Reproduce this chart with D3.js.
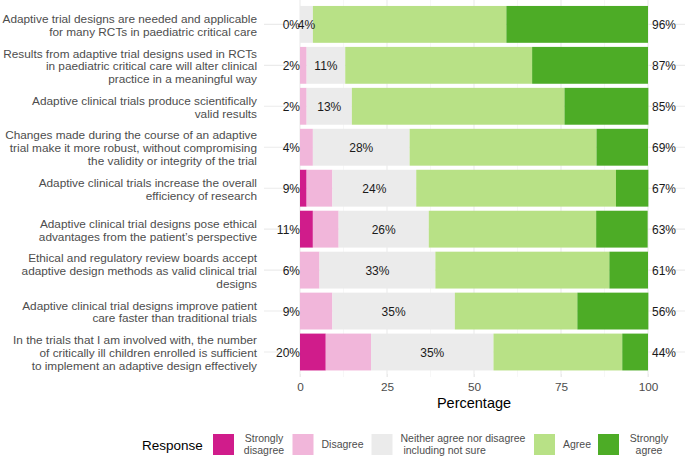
<!DOCTYPE html>
<html>
<head>
<meta charset="utf-8" />
<script src="https://cdn.jsdelivr.net/npm/d3@7"></script>
<style>
  body { margin: 0; background: #fff; }
  text { font-family: "Liberation Sans", Arial, sans-serif; }
</style>
</head>
<body>
<script>
    var width = 685;
    var height = 457;

    // statements (top to bottom)
    var items = [
        "Adaptive trial designs are needed and applicable\nfor many RCTs in paediatric critical care",
        "Results from adaptive trial designs used in RCTs\nin paediatric critical care will alter clinical\npractice in a meaningful way",
        "Adaptive clinical trials produce scientifically\nvalid results",
        "Changes made during the course of an adaptive\ntrial make it more robust, without compromising\nthe validity or integrity of the trial",
        "Adaptive clinical trials increase the overall\nefficiency of research",
        "Adaptive clinical trial designs pose ethical\nadvantages from the patient\u2019s perspective",
        "Ethical and regulatory review boards accept\nadaptive design methods as valid clinical trial\ndesigns",
        "Adaptive clinical trial designs improve patient\ncare faster than traditional trials",
        "In the trials that I am involved with, the number\nof critically ill children enrolled is sufficient\nto implement an adaptive design effectively"
    ];

    var responses = ["Strongly\ndisagree", "Disagree", "Neither agree nor disagree\n including not sure", "Agree", "Strongly\nagree"];
    var colors = ["#d01c8b", "#f1b6da", "#ebebeb", "#b8e186", "#4dac26"];

    // percentages per response level, one value per statement
    var stronglyDisagree = [0, 0, 0, 0, 1.9, 3.7, 0, 0, 7.4];
    var disagree = [0, 1.9, 1.9, 3.7, 7.4, 7.4, 5.6, 9.3, 13.0];
    var neutral = [3.7, 11.1, 13.0, 27.8, 24.1, 25.9, 33.3, 35.2, 35.2];
    var agree = [55.6, 53.7, 61.1, 53.7, 57.4, 48.1, 50.0, 35.2, 37.0];
    var stronglyAgree = [40.7, 33.3, 24.1, 14.8, 9.3, 14.8, 11.1, 20.4, 7.4];

    var lowLabels = ["0%", "2%", "2%", "4%", "9%", "11%", "6%", "9%", "20%"];
    var midLabels = ["4%", "11%", "13%", "28%", "24%", "26%", "33%", "35%", "35%"];
    var highLabels = ["96%", "87%", "85%", "69%", "67%", "63%", "61%", "56%", "44%"];

    var xTicks = [0, 25, 50, 75, 100];
    var xMinor = [12.5, 37.5, 62.5, 87.5];

    var series = [stronglyDisagree, disagree, neutral, agree, stronglyAgree];

    var panel = { left: 264, right: 685, top: 0, bottom: 377 };

    var x = d3.scaleLinear().domain([0, 100]).range([300, 648]);
    var y = d3.scaleBand().domain(d3.range(items.length))
        .range([3.9, 372.5]).paddingInner(0.1).paddingOuter(0.05);

    var svg = d3.select('body').append('svg')
        .attr('width', width)
        .attr('height', height);

    // gridlines
    var grid = svg.append('g');
    grid.selectAll('line.minor').data(xMinor).enter().append('line')
        .attr('x1', d => x(d)).attr('x2', d => x(d))
        .attr('y1', panel.top).attr('y2', panel.bottom)
        .attr('stroke', '#f2f2f2').attr('stroke-width', 0.6);
    grid.selectAll('line.major').data(xTicks).enter().append('line')
        .attr('x1', d => x(d)).attr('x2', d => x(d))
        .attr('y1', panel.top).attr('y2', panel.bottom)
        .attr('stroke', '#ebebeb').attr('stroke-width', 1.1);
    grid.selectAll('line.h').data(d3.range(items.length)).enter().append('line')
        .attr('x1', panel.left).attr('x2', panel.right)
        .attr('y1', d => y(d) + y.bandwidth() / 2).attr('y2', d => y(d) + y.bandwidth() / 2)
        .attr('stroke', '#ebebeb').attr('stroke-width', 1.1);

    // stacked bars
    var stacked = items.map(function (_, i) {
        var acc = 0;
        return series.map(function (s, k) {
            var seg = { row: i, k: k, x0: acc, x1: acc + s[i] };
            acc += s[i];
            return seg;
        });
    });
    var segs = [].concat.apply([], stacked).filter(d => d.x1 > d.x0);
    svg.append('g').selectAll('rect').data(segs).enter().append('rect')
        .attr('x', d => x(d.x0))
        .attr('width', d => x(d.x1) - x(d.x0))
        .attr('y', d => y(d.row))
        .attr('height', y.bandwidth())
        .attr('fill', d => colors[d.k]);

    // percentage labels
    var labels = svg.append('g').attr('font-size', 12).attr('fill', '#1a1a1a');
    labels.selectAll('text.low').data(lowLabels).enter().append('text')
        .attr('x', x(0)).attr('y', (d, i) => y(i) + y.bandwidth() / 2)
        .attr('dy', '0.38em').attr('text-anchor', 'end').text(d => d);
    labels.selectAll('text.high').data(highLabels).enter().append('text')
        .attr('x', x(100) + 4).attr('y', (d, i) => y(i) + y.bandwidth() / 2)
        .attr('dy', '0.38em').attr('text-anchor', 'start').text(d => d);
    labels.selectAll('text.mid').data(midLabels).enter().append('text')
        .attr('x', (d, i) => x(stronglyDisagree[i] + disagree[i] + neutral[i] / 2))
        .attr('y', (d, i) => y(i) + y.bandwidth() / 2)
        .attr('dy', '0.38em').attr('text-anchor', 'middle').text(d => d);

    // statement labels
    var lineH = 12.8;
    var yl = svg.append('g').attr('font-size', 11.8).attr('fill', '#4d4d4d');
    yl.selectAll('text').data(items).enter().append('text')
        .attr('text-anchor', 'end')
        .each(function (d, i) {
            var lines = d.split('\n');
            var cy = y(i) + y.bandwidth() / 2 + 0.5;
            var t = d3.select(this);
            lines.forEach(function (ln, j) {
                t.append('tspan')
                    .attr('x', 257)
                    .attr('y', cy + (j - (lines.length - 1) / 2) * lineH)
                    .attr('dy', '0.38em')
                    .text(ln);
            });
        });

    // x axis
    var xAxis = d3.axisBottom(x).tickValues(xTicks).tickSize(3).tickPadding(6);
    var ax = svg.append('g').attr('transform', 'translate(0,' + (panel.bottom - 3) + ')').call(xAxis);
    ax.select('.domain').remove();
    ax.selectAll('line').attr('stroke', '#ebebeb');
    ax.selectAll('text').attr('font-size', 11.8).attr('fill', '#4d4d4d')
        .style('font-family', '"Liberation Sans", Arial, sans-serif');

    svg.append('text')
        .attr('x', (x(0) + x(100)) / 2).attr('y', 408)
        .attr('text-anchor', 'middle').attr('font-size', 14.5).attr('fill', '#000')
        .text('Percentage');

    // legend
    var legend = svg.append('g');
    legend.append('text').attr('x', 142).attr('y', 445).attr('dy', '0.35em')
        .attr('font-size', 13.5).attr('fill', '#000').text('Response');
    var keyX = [213, 292.5, 371.5, 534, 598];
    var keys = legend.selectAll('g.key').data(responses).enter().append('g')
        .attr('transform', (d, i) => 'translate(' + keyX[i] + ',434)');
    keys.append('rect').attr('width', 21).attr('height', 21)
        .attr('fill', (d, i) => colors[i]);
    keys.append('text')
        .attr('font-size', 10.5).attr('fill', '#4d4d4d')
        .attr('text-anchor', d => d.indexOf('Strongly') === 0 ? 'middle' : 'start')
        .each(function (d) {
            var lines = d.split('\n');
            var t = d3.select(this);
            var tx = d.indexOf('Strongly') === 0 ? 51 : 29;
            lines.forEach(function (ln, j) {
                t.append('tspan')
                    .attr('x', tx)
                    .attr('y', 10.5 + (j - (lines.length - 1) / 2) * 12.5)
                    .attr('dy', '0.35em')
                    .style('white-space', 'pre')
                    .text(ln);
            });
        });
</script>
</body>
</html>
